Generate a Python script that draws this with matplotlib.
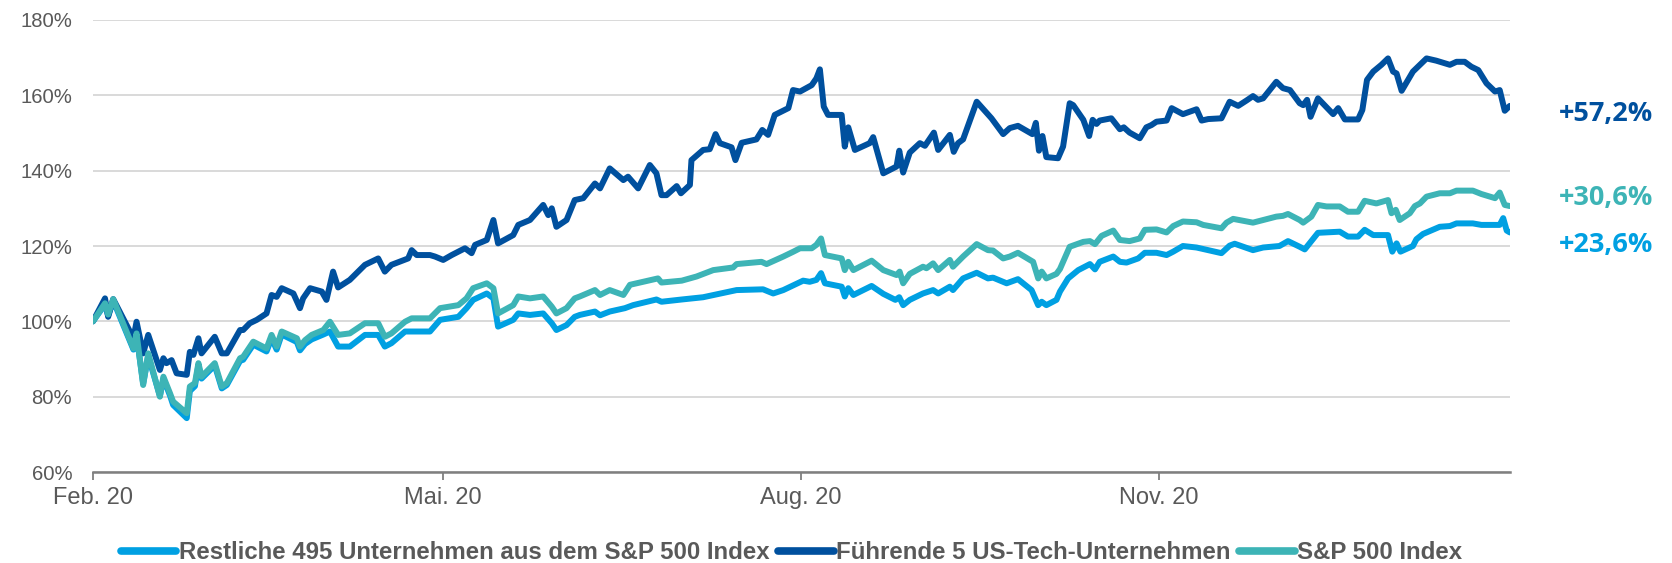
import matplotlib
matplotlib.use("Agg")
import matplotlib.pyplot as plt
from matplotlib.lines import Line2D
import pandas as pd

# ---------------- data (days since 1 Feb 2020, index level in %) ----------------
start_date = "2020-02-01"

tech5_days = [0, 3.1, 3.9, 5.2, 10.4, 11.2, 12.9, 14.2, 17.2, 18.1, 18.9, 20.2, 21.5, 24.1, 24.9, 25.8,
              27.1, 27.9, 31.3, 33.1, 34.4, 37.8, 38.6, 40.3, 42.1, 44.6, 45.9, 47.2, 48.5, 51.5, 53.2,
              54.0, 55.8, 58.8, 60.0, 61.7, 63.0, 66.0, 69.9, 73.3, 75.0, 76.7, 81.0, 81.9, 83.2, 86.6,
              87.9, 90.0, 92.2, 95.6, 97.3, 98.2, 101.2, 102.9, 104.1, 108.0, 109.3, 112.3, 115.7, 117.0,
              117.9, 119.1, 121.7, 123.8, 126.0, 129.0, 130.3, 132.8, 136.3, 137.5, 140.1, 143.1, 144.8,
              146.1, 147.4, 150.0, 151.1, 153.4, 153.8, 156.8, 158.5, 160.0, 161.1, 164.1, 165.1, 166.7,
              170.5, 172.0, 173.5, 175.2, 178.7, 179.9, 181.7, 184.7, 185.9, 186.8, 187.8, 188.9, 192.4,
              193.2, 194.1, 195.8, 199.6, 200.5, 203.1, 206.5, 207.2, 208.2, 209.9, 212.5, 213.8, 216.1,
              217.2, 220.2, 221.2, 222.3, 223.6, 227.1, 230.9, 233.9, 235.6, 237.7, 241.4, 242.3, 243.1,
              244.0, 245.0, 248.0, 249.3, 251.0, 251.9, 254.5, 256.0, 256.9, 257.9, 258.7, 261.7, 263.9,
              264.9, 266.4, 269.0, 270.7, 272.0, 273.3, 275.9, 277.2, 280.1, 283.6, 284.9, 286.6, 290.0,
              292.1, 294.3, 296.4, 298.1, 299.4, 300.7, 304.1, 305.8, 307.6, 310.1, 311.0, 312.0, 312.9,
              314.8, 318.7, 320.0, 321.7, 325.1, 326.2, 327.4, 329.0, 331.1, 332.8, 334.1, 335.0, 336.3,
              339.2, 340.5, 342.7, 345.2, 348.7, 350.4, 352.5, 354.2, 356.0, 358.1, 360.3, 361.5, 362.8,
              364.1]
tech5_vals = [100, 106.1, 101.2, 105.9, 95.5, 99.9, 91.5, 96.4, 87.1, 90.2, 88.9, 89.7, 86.2, 85.8, 91.9, 91.1,
              95.5, 91.5, 95.9, 91.5, 91.5, 97.7, 97.7, 99.5, 100.4, 102.1, 107.0, 106.5, 108.8, 107.4, 103.5,
              106.1, 108.8, 107.9, 105.7, 113.2, 109.0, 111.0, 115.0, 116.7, 113.2, 115.0, 116.7, 118.9, 117.6, 117.6,
              117.2, 116.3, 117.6, 119.4, 118.1, 120.3, 121.6, 126.9, 120.7, 122.9, 125.6, 126.9, 130.9, 128.2,
              130.0, 125.1, 126.9, 132.2, 132.7, 136.6, 135.3, 140.6, 137.5, 138.4, 135.3, 141.5, 139.3,
              133.5, 133.5, 135.9, 134.0, 136.2, 142.8, 145.5, 145.7, 149.7, 147.3, 146.2, 142.8, 147.4,
              148.3, 150.8, 149.5, 154.8, 156.6, 161.4, 161.0, 162.7, 164.5, 166.9, 157.0, 154.8, 154.8,
              146.4, 151.5, 145.5, 147.3, 148.9, 139.3, 141.1, 145.3, 139.5, 144.8, 147.3, 146.6, 150.1,
              145.5, 149.5, 145.0, 147.3, 148.3, 158.3, 153.9, 149.7, 151.3, 151.9, 149.7, 152.7, 145.3,
              149.2, 143.6, 143.3, 146.4, 157.9, 157.4, 153.5, 149.2, 153.5, 152.4, 153.3, 153.9, 151.0,
              151.5, 150.1, 148.6, 151.5, 152.1, 153.0, 153.3, 156.6, 155.0, 156.3, 153.3, 153.7, 153.9,
              158.3, 157.2, 158.6, 159.8, 158.8, 159.2, 163.6, 161.9, 161.4, 157.9, 157.4, 158.8, 154.3,
              159.2, 155.0, 156.6, 153.6, 153.6, 156.1, 164.1, 166.3, 168.1, 169.8, 166.3, 165.8, 161.2,
              166.3, 167.6, 169.8, 169.2, 168.1, 168.9, 168.9, 167.6, 166.7, 163.2, 161.0, 161.4, 155.9,
              157.2]

sp500_days = [0, 3.1, 3.9, 5.2, 10.4, 11.2, 12.9, 14.2, 17.2, 18.1, 19.8, 20.6, 24.1, 24.9, 26.2, 27.1,
              27.9, 31.3, 33.1, 34.4, 37.8, 38.6, 41.2, 44.6, 45.9, 47.2, 48.5, 52.4, 53.2, 54.5, 56.2,
              59.2, 60.9, 63.0, 66.0, 69.9, 73.3, 75.0, 76.7, 80.2, 81.9, 86.6, 89.2, 93.9, 96.0, 97.7,
              101.2, 102.9, 104.1, 108.0, 109.3, 112.3, 115.7, 117.9, 119.1, 121.7, 123.8, 125.1, 129.0,
              130.3, 132.8, 136.3, 138.0, 145.2, 146.1, 151.3, 155.1, 159.4, 164.5, 165.4, 171.8, 173.1,
              177.4, 180.0, 181.7, 184.7, 185.9, 187.1, 188.1, 192.4, 193.2, 194.1, 195.4, 200.1, 203.1,
              206.5, 207.3, 208.2, 209.9, 213.3, 214.2, 215.9, 217.2, 220.2, 221.0, 223.6, 227.1, 230.0,
              231.3, 233.9, 235.6, 237.7, 241.6, 242.9, 243.8, 245.0, 247.6, 248.5, 251.0, 254.5, 256.2,
              257.5, 259.2, 262.2, 263.9, 266.4, 269.0, 270.3, 273.3, 275.9, 277.6, 280.1, 283.6, 285.3,
              290.0, 291.3, 293.0, 298.1, 300.7, 304.1, 305.8, 307.1, 310.1, 311.0, 313.1, 314.8, 317.0,
              320.4, 322.5, 325.1, 326.8, 329.8, 332.8, 333.7, 334.8, 335.8, 338.4, 339.7, 341.0, 342.7,
              346.1, 348.7, 350.4, 354.6, 356.8, 360.3, 361.5, 362.8, 364.1]
sp500_vals = [100, 104.8, 101.8, 105.9, 92.8, 96.8, 83.1, 91.5, 80.0, 85.3, 80.9, 78.7, 75.6, 82.7, 83.6, 88.9,
              85.3, 88.9, 82.7, 83.6, 90.2, 90.6, 94.6, 92.8, 96.4, 93.3, 97.3, 95.5, 93.3, 95.0, 96.4,
              97.7, 99.9, 96.4, 96.8, 99.5, 99.5, 95.9, 96.8, 99.9, 100.8, 100.8, 103.5, 104.3, 106.1, 108.8,
              110.1, 108.8, 102.1, 104.3, 106.6, 106.1, 106.6, 103.9, 102.1, 103.5, 106.1, 106.6, 108.3,
              107.0, 108.3, 107.0, 109.7, 111.4, 110.3, 110.8, 111.9, 113.6, 114.3, 115.2, 115.8, 115.2,
              117.2, 118.5, 119.4, 119.4, 120.3, 122.0, 117.6, 116.7, 113.6, 115.8, 113.6, 116.1, 113.6,
              112.3, 113.2, 110.1, 112.6, 114.5, 114.1, 115.4, 113.6, 116.3, 114.5, 117.2, 120.5, 118.9,
              118.8, 116.7, 117.2, 118.2, 115.8, 111.4, 113.2, 111.4, 112.6, 113.9, 119.8, 121.1, 121.3,
              120.5, 122.7, 124.1, 121.6, 121.3, 122.0, 124.3, 124.4, 123.6, 125.3, 126.5, 126.3, 125.6,
              124.7, 126.2, 127.2, 126.2, 126.9, 127.8, 128.0, 128.5, 126.9, 126.2, 127.8, 130.9, 130.5,
              130.5, 129.1, 129.1, 132.0, 131.3, 132.2, 128.7, 129.6, 126.9, 128.7, 130.6, 131.3, 133.1,
              134.0, 134.0, 134.7, 134.7, 133.8, 132.7, 134.2, 130.9, 130.6]

rest495_days = [0, 3.1, 3.9, 5.2, 10.4, 11.2, 12.9, 14.2, 17.2, 18.1, 19.8, 20.6, 24.1, 24.9, 26.2, 27.1,
                27.9, 31.3, 33.1, 34.4, 37.8, 38.6, 41.2, 44.6, 45.9, 47.2, 48.5, 52.4, 53.2, 54.5, 56.2,
                59.2, 60.9, 63.0, 66.0, 69.9, 73.3, 75.0, 76.7, 80.2, 86.6, 89.2, 93.9, 96.0, 97.7, 101.2,
                102.9, 104.1, 108.0, 109.3, 112.3, 115.7, 117.9, 119.1, 121.7, 123.8, 125.1, 129.0, 130.3,
                132.8, 136.7, 138.8, 144.8, 146.1, 151.3, 156.8, 165.4, 172.2, 174.8, 177.4, 182.5, 184.2,
                185.9, 187.1, 188.1, 192.4, 193.2, 194.1, 195.4, 200.1, 203.1, 206.2, 207.2, 208.2, 209.9,
                213.3, 215.9, 217.2, 220.2, 221.0, 223.6, 227.1, 230.0, 231.3, 234.8, 237.7, 241.2, 242.9,
                243.8, 245.0, 247.6, 248.5, 250.6, 253.2, 256.2, 257.5, 258.7, 262.2, 263.9, 265.6, 268.6,
                270.3, 273.3, 275.9, 277.6, 280.1, 283.6, 290.0, 292.1, 293.4, 298.1, 300.7, 304.9, 307.1,
                310.1, 311.4, 314.8, 320.4, 322.5, 325.1, 326.8, 329.0, 332.8, 333.9, 335.0, 336.0, 339.2,
                340.1, 341.8, 346.1, 348.7, 350.4, 354.6, 356.8, 361.5, 362.4, 363.3, 364.1]
rest495_vals = [100, 104.5, 101.5, 105.5, 92.5, 96.3, 83.5, 90.8, 80.2, 84.8, 80.3, 77.8, 74.3, 81.5, 82.8, 88.3,
                84.8, 88.3, 82.2, 83.1, 89.5, 89.8, 93.8, 92.0, 95.5, 92.5, 96.5, 94.5, 92.3, 94.0, 95.2,
                96.5, 97.3, 93.3, 93.3, 96.4, 96.4, 93.3, 94.2, 97.3, 97.3, 100.4, 101.2, 103.5, 105.7, 107.4,
                106.1, 98.6, 100.4, 102.1, 101.7, 102.1, 99.5, 97.7, 99.0, 101.2, 101.7, 102.6, 101.6,
                102.6, 103.5, 104.3, 105.8, 105.2, 105.8, 106.4, 108.3, 108.5, 107.4, 108.3, 110.8, 110.5,
                111.0, 112.8, 110.1, 109.2, 106.6, 108.8, 107.0, 109.4, 107.3, 105.7, 106.4, 104.3, 105.7,
                107.4, 108.3, 107.4, 109.2, 108.3, 111.4, 112.9, 111.4, 111.6, 110.1, 111.2, 108.3, 104.3,
                105.2, 104.3, 105.7, 107.9, 111.4, 113.6, 115.2, 113.8, 115.8, 117.2, 115.8, 115.6, 116.7,
                118.2, 118.2, 117.6, 118.5, 120.0, 119.6, 118.1, 120.1, 120.6, 118.9, 119.6, 120.0, 121.3,
                119.8, 119.1, 123.5, 123.8, 122.5, 122.5, 124.3, 122.9, 122.9, 118.5, 120.7, 118.5, 120.0,
                121.8, 123.2, 125.1, 125.3, 126.0, 126.0, 125.6, 125.6, 127.4, 124.1, 123.6]

series_names = ["Restliche 495 Unternehmen aus dem S&P 500 Index",
                "Führende 5 US-Tech-Unternehmen",
                "S&P 500 Index"]
end_labels = ["+23,6%", "+57,2%", "+30,6%"]
end_label_levels = [120.3, 155.0, 132.7]
tick_dates = ["2020-02-01", "2020-05-01", "2020-08-01", "2020-11-01"]
tick_labels = ["Feb. 20", "Mai. 20", "Aug. 20", "Nov. 20"]
y_ticks = [60, 80, 100, 120, 140, 160, 180]

# ---------------- style ----------------
colors = ["#00A0E2", "#00509E", "#3DB4B6"]
grey = "#595959"
plt.rcParams["font.family"] = ["Liberation Sans", "DejaVu Sans"]

fig = plt.figure(figsize=(16.72, 5.63), dpi=100)
ax = fig.add_axes([0.0556, 0.1616, 0.8474, 0.8029])

t0 = pd.Timestamp(start_date)
def to_dates(days):
    return t0 + pd.to_timedelta(pd.Series(days, dtype=float), unit="D")

all_days = [rest495_days, tech5_days, sp500_days]
all_vals = [rest495_vals, tech5_vals, sp500_vals]
for d, v, c in zip(all_days, all_vals, colors):
    ax.plot(to_dates(d), v, color=c, lw=4.3, solid_joinstyle="round", solid_capstyle="round", zorder=3)

ax.set_xlim(t0, t0 + pd.Timedelta(days=max(tech5_days)))
ax.set_ylim(60, 180)
ax.set_yticks(y_ticks)
ax.set_yticklabels([f"{t}%" for t in y_ticks])
ax.set_xticks(pd.to_datetime(tick_dates))
ax.set_xticklabels(tick_labels)

ax.grid(axis="y", color="#D9D9D9", lw=1.4, zorder=0)
for s in ["top", "right", "left"]:
    ax.spines[s].set_visible(False)
ax.spines["bottom"].set_color("#7F7F7F")
ax.spines["bottom"].set_linewidth(1.8)
ax.spines["bottom"].set_zorder(4)
ax.tick_params(axis="y", length=0, labelsize=14.6, labelcolor=grey, pad=15)
ax.tick_params(axis="x", length=6, width=1.3, color="#7F7F7F", labelsize=17, labelcolor=grey, pad=5)

for lab, lev, c in zip(end_labels, end_label_levels, colors):
    ax.text(1.0346, lev, lab, transform=ax.get_yaxis_transform(), color=c,
            fontsize=19.5, fontweight="bold", va="center", ha="left",
            family=["Open Sans", "DejaVu Sans"])

handles = [Line2D([0], [0], color=c, lw=5.5, solid_capstyle="round") for c in colors]
leg = fig.legend(handles, series_names, loc="center", bbox_to_anchor=(0.4736, 0.018),
                 ncol=3, frameon=False, handlelength=2.3, handletextpad=0.12, columnspacing=0.35,
                 prop={"size": 17.3, "weight": "bold"})
for t in leg.get_texts():
    t.set_color(grey)

fig.savefig("out.png", dpi=100)
